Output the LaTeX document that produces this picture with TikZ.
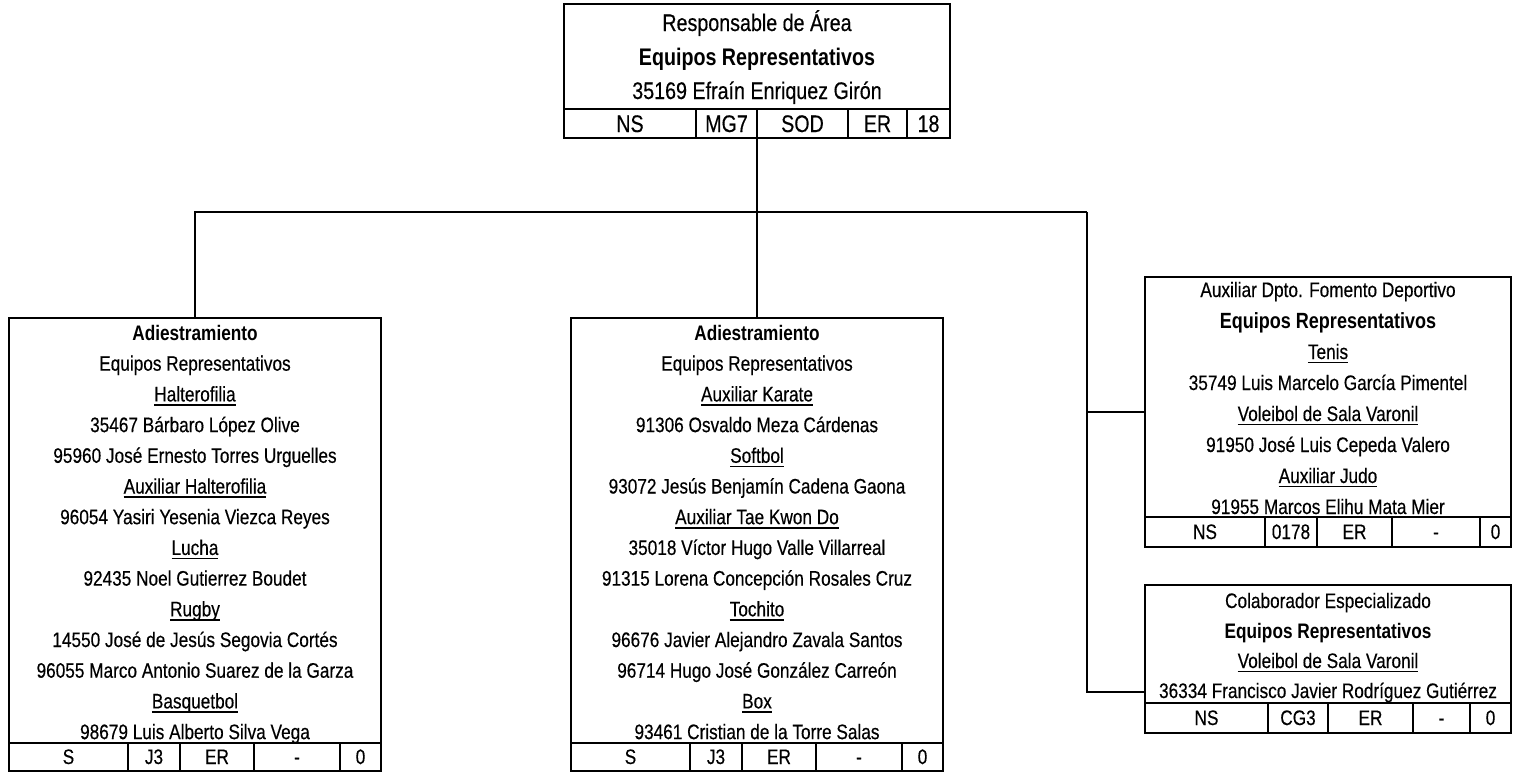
\documentclass[tikz,border=0pt]{standalone}
\usepackage{fontspec}
\setmainfont{Liberation Sans}[FakeStretch=0.82, UprightFeatures={FakeBold=0.35}]
\usepackage{tikz}

% underlined sport titles
\newcommand{\sport}[1]{\setbox0=\hbox{#1}\dp0=0pt\vtop{\box0\kern1.4pt\hrule height0.8pt}}

\tikzset{
  txt/.style={anchor=base, inner sep=0pt, font=\fontsize{10.5}{12}\selectfont},
  big/.style={anchor=base, inner sep=0pt, font=\fontsize{12}{14}\selectfont},
  box/.style={draw, line width=1pt, inner sep=0pt, outer sep=0pt, anchor=north west},
  link/.style={line width=1pt}
}

\begin{document}
\begin{tikzpicture}[x=0.5pt,y=-0.5pt]
    \useasboundingbox (0,0) rectangle (1513,772);

    % Draw boxes
    \node[box, minimum width=193pt, minimum height=67pt] (resp) at (564,4) {};
    \node[box, minimum width=186pt, minimum height=226.5pt] (adl) at (9,318) {};
    \node[box, minimum width=186pt, minimum height=226.5pt] (adm) at (571,318) {};
    \node[box, minimum width=183pt, minimum height=135pt] (aux) at (1145,277) {};
    \node[box, minimum width=183pt, minimum height=74pt] (col) at (1145,585) {};

    % Draw connectors
    \coordinate (bus) at (1087,212);
    \coordinate (colin) at (1145,692);
    \draw[link] (resp.south) -- (adm.north);
    \draw[link] (adl.north) |- (bus);
    \draw[link] (bus) |- (aux.west);
    \draw[link] (bus) |- (colin);

    % Responsable de Area
    \foreach \t [count=\i] in {Responsable de Área, \textbf{Equipos Representativos}, 35169 Efraín Enriquez Girón}
        \node[big] (resp-\i) at (757,{31+34*(\i-1)}) {\t};
    \draw[link] (564,109) -- (950,109);
    \foreach \xa/\xb/\t [count=\i] in {564/696/NS,696/757/MG7,757/848/SOD,848/907/ER,907/950/18} {
        \draw[link] (\xb,109) -- (\xb,138);
        \node[big] (respf-\i) at ({(\xa+\xb)/2},132) {\t};
    }

    % Adiestramiento (left)
    \foreach \t [count=\i] in {\textbf{Adiestramiento}, Equipos Representativos, \sport{Halterofilia},
        35467 Bárbaro López Olive, 95960 José Ernesto Torres Urguelles, \sport{Auxiliar Halterofilia},
        96054 Yasiri Yesenia Viezca Reyes, \sport{Lucha}, 92435 Noel Gutierrez Boudet, \sport{Rugby},
        14550 José de Jesús Segovia Cortés, 96055 Marco Antonio Suarez de la Garza, \sport{Basquetbol},
        98679 Luis Alberto Silva Vega}
        \node[txt] (adl-\i) at (195,{340+30.7*(\i-1)}) {\t};
    \draw[link] (9,743) -- (381,743);
    \foreach \xa/\xb/\t [count=\i] in {9/128/S,128/180/J3,180/254/ER,254/340/-,340/381/0} {
        \draw[link] (\xb,743) -- (\xb,771);
        \node[txt] (adlf-\i) at ({(\xa+\xb)/2},764) {\t};
    }

    % Adiestramiento (middle)
    \foreach \t [count=\i] in {\textbf{Adiestramiento}, Equipos Representativos, \sport{Auxiliar Karate},
        91306 Osvaldo Meza Cárdenas, \sport{Softbol}, 93072 Jesús Benjamín Cadena Gaona,
        \sport{Auxiliar Tae Kwon Do}, 35018 Víctor Hugo Valle Villarreal, 91315 Lorena Concepción Rosales Cruz,
        \sport{Tochito}, 96676 Javier Alejandro Zavala Santos, 96714 Hugo José González Carreón,
        \sport{Box}, 93461 Cristian de la Torre Salas}
        \node[txt] (adm-\i) at (757,{340+30.7*(\i-1)}) {\t};
    \draw[link] (571,743) -- (943,743);
    \foreach \xa/\xb/\t [count=\i] in {571/690/S,690/742/J3,742/816/ER,816/902/-,902/943/0} {
        \draw[link] (\xb,743) -- (\xb,771);
        \node[txt] (admf-\i) at ({(\xa+\xb)/2},764) {\t};
    }

    % Auxiliar Dpto. Fomento Deportivo
    \foreach \t [count=\i] in {Auxiliar Dpto. Fomento Deportivo,
        {\fontsize{11}{13}\selectfont\bfseries Equipos Representativos}, \sport{Tenis},
        35749 Luis Marcelo García Pimentel, \sport{Voleibol de Sala Varonil}, 91950 José Luis Cepeda Valero,
        \sport{Auxiliar Judo}, 91955 Marcos Elihu Mata Mier}
        \node[txt] (aux-\i) at (1328,{297+31*(\i-1)}) {\t};
    \draw[link] (1145,517) -- (1511,517);
    \foreach \xa/\xb/\t [count=\i] in {1145/1265/NS,1265/1317/0178,1317/1392/ER,1392/1480/-,1480/1511/0} {
        \draw[link] (\xb,517) -- (\xb,547);
        \node[txt] (auxf-\i) at ({(\xa+\xb)/2},539) {\t};
    }

    % Colaborador Especializado
    \foreach \t [count=\i] in {Colaborador Especializado, \textbf{Equipos Representativos},
        \sport{Voleibol de Sala Varonil}, 36334 Francisco Javier Rodríguez Gutiérrez}
        \node[txt] (col-\i) at (1328,{608+30*(\i-1)}) {\t};
    \draw[link] (1145,703) -- (1511,703);
    \foreach \xa/\xb/\t [count=\i] in {1145/1268/NS,1268/1328/CG3,1328/1413/ER,1413/1470/-,1470/1511/0} {
        \draw[link] (\xb,703) -- (\xb,733);
        \node[txt] (colf-\i) at ({(\xa+\xb)/2},725) {\t};
    }
\end{tikzpicture}
\end{document}
